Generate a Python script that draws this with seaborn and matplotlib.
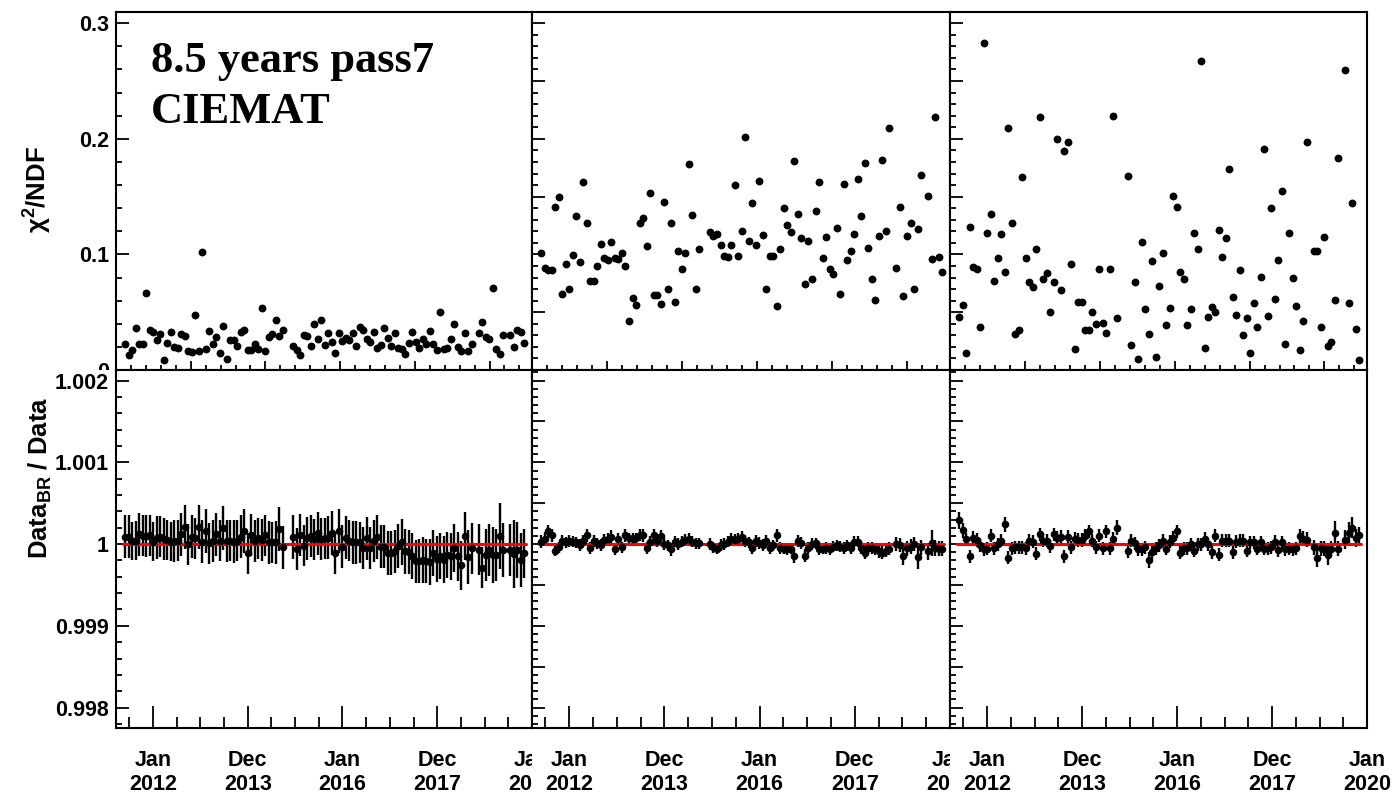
import numpy as np
import matplotlib
matplotlib.use("Agg")
import matplotlib.pyplot as plt
import seaborn as sns
from matplotlib.ticker import FixedLocator, MultipleLocator, FuncFormatter, NullFormatter
from matplotlib.transforms import Bbox, TransformedBbox

nan = np.nan

# ---------------- data ----------------
# 27-day time bins (decimal years)
BIN_DAYS = 27
FIRST_BIN_CENTRE = 2011.409
N_BINS = 115

xtick_years = [2012, 2014, 2016, 2018, 2020]
xtick_labels = ["Jan\n2012", "Dec\n2013", "Jan\n2016", "Dec\n2017", "Jan\n2020"]
annotation_lines = ["8.5 years pass7", "CIEMAT"]

# chi2/NDF, one list per column
chi2_a = [0.0222, 0.013, 0.017, 0.036, 0.0228, 0.0222, 0.0664, 0.0349, 0.0326, 0.0257,
          0.0315, 0.0084, 0.0234, 0.0332, 0.0199, 0.0193, 0.0309, 0.0297, 0.0165, 0.0159,
          0.0476, 0.0165, 0.1024, 0.0179, 0.034, 0.0222, 0.0286, 0.0147, 0.0381, 0.0092,
          0.0263, 0.0263, 0.0205, 0.0332, 0.0349, 0.017, 0.017, 0.0228, 0.0182, 0.054,
          0.0165, 0.0286, 0.0312, 0.0436, 0.0297, 0.0346, nan, nan, 0.0208, 0.0176,
          0.013, 0.0303, 0.0297, 0.0208, 0.0395, 0.0266, 0.0436, 0.0214, 0.0323, 0.024,
          0.015, 0.0317, 0.0248, 0.028, 0.0263, 0.0323, 0.0208, 0.0372, 0.0343, 0.0266,
          0.0242, 0.0332, 0.019, 0.0214, 0.0364, 0.0277, 0.0208, 0.0323, 0.0193, 0.0182,
          0.0139, 0.0231, 0.0326, 0.024, 0.0193, 0.0271, 0.0228, 0.0335, 0.0228, 0.017,
          0.0499, 0.0185, 0.0193, 0.0266, 0.0398, 0.0202, 0.0165, 0.0317, 0.0165, 0.0222,
          nan, 0.0323, 0.0416, 0.0283, 0.0271, 0.0707, 0.0182, 0.0139, 0.030, nan,
          0.0303, 0.0199, 0.0346, 0.0332, 0.0234]
chi2_b = [0.1016, 0.0886, 0.0863, 0.0863, 0.1414, 0.150, 0.0658, 0.0915, 0.0698, 0.0999,
          0.1333, 0.0935, 0.163, 0.1273, 0.0773, 0.0768, 0.0903, 0.1094, 0.0967, 0.095,
          0.1108, 0.0973, 0.0961, 0.1016, 0.0903, 0.0421, 0.0623, 0.056, 0.1276, 0.1319,
          0.1071, 0.1535, 0.0652, 0.0652, 0.0574, 0.1452, 0.0704, 0.1276, 0.0589, 0.1033,
          0.0874, 0.101, 0.178, 0.1342, 0.0698, 0.1045, nan, nan, 0.1192, 0.1163,
          0.118, 0.1079, 0.0987, 0.0975, 0.1079, 0.1599, 0.099, 0.1206, 0.2017, 0.1117,
          0.1443, 0.1079, 0.1636, 0.1166, 0.0698, 0.099, 0.0987, 0.0551, 0.1048, 0.1405,
          0.1255, 0.1195, 0.1807, 0.1351, 0.1143, 0.0742, 0.112, 0.0785, 0.1374, 0.1625,
          0.0973, 0.1152, 0.0874, 0.0828, 0.1229, 0.0658, 0.1605, 0.0952, 0.103, 0.1175,
          0.1651, 0.1336, 0.1795, 0.1059, 0.0785, 0.0603, 0.1163, 0.1821, 0.1206, 0.2095,
          nan, 0.088, 0.1414, 0.0644, 0.1163, 0.1273, 0.0701, 0.1221, 0.1683, nan,
          0.1509, 0.0958, 0.219, 0.0978, 0.0846]
chi2_c = [0.0456, 0.0566, 0.0144, 0.1238, 0.0895, 0.0874, 0.0369, 0.2828, 0.1186, 0.1354,
          0.0773, 0.097, 0.1177, 0.0848, 0.2092, 0.1273, 0.0312, 0.0346, 0.1674, 0.0967,
          0.0765, 0.0716, 0.1045, 0.2193, 0.0791, 0.084, 0.0499, 0.0759, 0.2, 0.0693,
          0.1899, 0.1974, 0.0921, 0.0185, 0.0586, 0.0592, 0.0346, 0.0343, 0.0502, 0.0395,
          0.0877, 0.0404, 0.0317, 0.0877, 0.2196, 0.0447, nan, nan, 0.1677, 0.0219,
          0.0765, 0.0098, 0.1108, 0.0528, 0.0309, 0.0947, 0.011, 0.0727, 0.101, 0.0392,
          0.0534, 0.1509, 0.1408, 0.0848, 0.0791, 0.0392, 0.0528, 0.1183, 0.105, 0.2672,
          0.019, 0.0462, 0.0545, 0.0502, 0.1209, 0.0978, 0.1146, 0.174, 0.0629, 0.0476,
          0.0866, 0.0303, 0.045, 0.015, 0.058, 0.0369, 0.0808, 0.1911, 0.047, 0.14,
          0.0615, 0.0955, 0.1547, 0.0222, 0.1183, 0.0797, 0.0557, 0.0176, 0.0427, 0.1974,
          nan, 0.103, 0.103, 0.0369, 0.1154, 0.0211, 0.024, 0.0609, 0.1838, nan,
          0.2592, 0.058, 0.1449, 0.0355, 0.0087]

# Data_BR / Data deviation from 1, in units of 1e-4
ratio_a = [0.9, 0.9, 0.4, 0.4, 1.2, 1.0, 1.0, 1.1, 0.3, 0.8,
           0.9, 0.6, 0.5, 0.3, 0.4, 0.4, 1.2, 2.1, 0.0, 0.9,
           0.7, 2.1, 0.3, 1.6, 0.1, 0.4, 1.2, 0.4, 2.0, 0.4,
           0.4, 0.3, 0.4, 0.9, 1.6, -1.1, 1.1, 0.4, 0.7, 0.5,
           1.1, 0.2, 0.2, 0.2, 1.8, -0.4, nan, nan, 0.9, -0.6,
           1.1, -0.2, 0.7, 1.0, 0.6, 1.3, 0.6, 0.7, 0.8, 1.4,
           -1.1, 1.6, -0.3, 0.8, 0.4, 0.2, 0.2, 0.2, -0.5, 0.7,
           -0.5, 0.4, 0.9, -0.3, -0.3, -1.1, -1.1, -0.9, -0.2, 0.3,
           -0.9, -1.0, -1.5, -2.1, -2.1, -1.9, -2.1, -2.2, -1.1, -1.8,
           -1.5, -1.9, -1.3, -1.5, -0.5, -1.5, -2.6, 1.0, -1.6, -0.5,
           nan, -0.7, -2.9, -1.3, -0.7, -1.3, -1.3, 1.0, -0.7, nan,
           -0.7, -1.2, -0.7, -2.0, -1.1]
err_a = [2.6, 2.6, 2.3, 2.4, 2.6, 2.5, 2.6, 2.5, 2.4, 2.6,
         2.5, 2.6, 2.5, 2.4, 2.6, 2.5, 2.6, 2.7, 2.5, 2.6,
         2.5, 2.7, 2.6, 2.7, 2.5, 2.6, 2.6, 2.5, 2.7, 2.6,
         2.5, 2.6, 2.5, 2.6, 2.7, 2.5, 2.6, 2.6, 2.5, 2.6,
         2.5, 2.6, 2.5, 2.6, 2.7, 2.6, nan, nan, 2.7, 2.6,
         2.6, 2.5, 2.6, 2.6, 2.5, 2.6, 2.6, 2.5, 2.6, 2.7,
         2.6, 2.7, 2.6, 2.6, 2.5, 2.6, 2.6, 2.5, 2.6, 2.6,
         2.6, 2.6, 2.7, 2.6, 2.6, 2.7, 2.7, 2.6, 2.7, 2.8,
         2.7, 2.7, 2.8, 2.6, 2.7, 2.8, 2.7, 2.8, 2.8, 2.8,
         2.8, 2.9, 2.8, 2.9, 2.9, 3.0, 3.0, 2.9, 3.3, 3.1,
         nan, 3.1, 2.5, 3.2, 3.2, 3.4, 3.2, 4.0, 3.3, nan,
         3.2, 4.2, 3.4, 3.3, 3.0]

ratio_b = [0.3, 0.65, 1.55, 1.1, -0.8, -0.4, 0.4, 0.2, 0.4, 0.3,
           0.2, -0.1, 0.4, 1.1, -0.5, 0.4, 0.1, -0.1, 0.5, 0.65,
           0.9, -0.65, 0.6, -0.4, 1.1, 0.7, 0.6, 0.7, 1.1, 1.1,
           -0.5, 0.3, 1.1, 0.4, 1.0, 0.0, -0.15, -0.65, 0.3, 0.0,
           0.3, 0.5, 0.65, 0.3, 0.1, 0.1, nan, nan, 0.0, -0.4,
           -0.55, -0.1, 0.0, 0.3, 0.6, 0.5, 0.65, 0.9, 0.4, 0.2,
           -0.5, 0.4, 0.15, -0.1, 0.4, -0.5, -0.15, 1.1, -0.5, -0.55,
           -0.65, -0.55, -1.5, 0.4, 0.15, -1.4, -0.5, 0.0, 0.1, -0.65,
           -0.55, -0.5, -0.65, -0.3, -0.15, -0.3, -0.5, -0.15, -0.5, 0.3,
           0.3, -0.5, -1.05, -0.5, -0.5, -0.65, -0.9, -1.05, -0.8, -0.55,
           nan, 0.0, -0.1, -1.5, -0.5, -0.3, 0.0, -1.55, -0.4, nan,
           -0.9, 0.1, -0.5, -0.55, -0.55]
err_b = [0.8, 0.8, 0.8, 0.8, 0.7, 0.7, 0.7, 0.7, 0.7, 0.7,
         0.7, 0.7, 0.7, 0.8, 0.7, 0.7, 0.7, 0.7, 0.7, 0.7,
         0.8, 0.7, 0.7, 0.7, 0.8, 0.7, 0.7, 0.7, 0.7, 0.8,
         0.7, 0.7, 0.8, 0.7, 0.7, 0.7, 0.7, 0.8, 0.7, 0.7,
         0.7, 0.7, 0.7, 0.7, 0.7, 0.7, nan, nan, 0.7, 0.7,
         0.7, 0.7, 0.7, 0.7, 0.7, 0.7, 0.7, 0.7, 0.7, 0.7,
         0.7, 0.7, 0.7, 0.7, 0.7, 0.7, 0.7, 0.8, 0.7, 0.7,
         0.7, 0.7, 0.8, 0.7, 0.7, 0.8, 0.7, 0.7, 0.7, 0.7,
         0.7, 0.7, 0.7, 0.7, 0.7, 0.7, 0.7, 0.7, 0.7, 0.7,
         0.7, 0.7, 0.8, 0.7, 0.7, 0.7, 0.8, 0.8, 0.8, 0.8,
         nan, 0.9, 0.9, 1.0, 0.9, 0.9, 0.9, 1.5, 0.9, nan,
         1.0, 1.6, 1.0, 0.9, 0.9]

ratio_c = [2.9, 1.7, 0.6, -1.5, 0.8, 0.5, -0.15, -0.65, -0.55, 1.0,
           -0.5, 0.0, 0.4, 2.4, -1.65, -0.5, -0.4, -0.4, -0.4, -0.5,
           0.4, 0.3, -1.2, 1.2, 0.4, 0.4, -0.25, 1.2, 0.8, 0.9,
           -1.5, 0.9, -0.4, 0.65, 0.5, 0.5, 1.05, 1.55, 0.4, -0.4,
           1.0, -0.5, 1.55, -0.5, 0.65, 2.0, nan, nan, -0.9, 0.4,
           0.1, -0.65, -0.65, -0.4, -1.95, -1.0, -0.5, -0.15, 0.4, -0.55,
           0.3, 0.8, 1.55, -1.05, -0.5, -0.5, 0.0, -0.8, 0.0, 0.0,
           0.65, 0.0, -1.0, 1.05, -1.3, 0.4, 0.4, 0.4, -1.0, 0.3,
           0.4, 0.4, -0.8, 0.25, 0.25, -0.55, 0.25, -0.55, -0.5, -0.4,
           0.3, -0.75, 0.25, -0.65, -0.55, -0.65, -0.5, 1.0, 0.65, 0.55,
           nan, -0.4, -1.7, -0.5, -0.55, -1.3, -0.55, 1.3, -0.55, nan,
           0.55, 1.4, 2.0, 0.75, 1.15]
err_c = [1.0, 0.9, 0.8, 0.8, 0.8, 0.8, 0.8, 0.8, 0.8, 0.8,
         0.8, 0.8, 0.8, 0.9, 0.8, 0.8, 0.8, 0.8, 0.8, 0.8,
         0.8, 0.8, 0.8, 0.8, 0.8, 0.8, 0.8, 0.8, 0.8, 0.8,
         0.8, 0.8, 0.8, 0.8, 0.8, 0.8, 0.8, 0.8, 0.8, 0.8,
         0.8, 0.8, 0.8, 0.8, 0.8, 0.9, nan, nan, 0.8, 0.8,
         0.8, 0.8, 0.8, 0.8, 1.0, 0.8, 0.8, 0.8, 0.8, 0.8,
         0.8, 0.8, 0.8, 0.8, 0.8, 0.8, 0.8, 0.8, 0.8, 0.8,
         0.8, 0.8, 0.8, 0.8, 0.8, 0.8, 0.8, 0.8, 0.8, 0.8,
         0.8, 0.8, 0.8, 0.8, 0.8, 0.8, 0.8, 0.8, 0.8, 0.8,
         0.8, 0.8, 0.8, 0.8, 0.8, 0.8, 0.8, 0.9, 0.9, 0.9,
         nan, 0.9, 1.1, 0.9, 0.9, 1.3, 0.9, 1.5, 0.9, nan,
         1.2, 1.3, 1.3, 1.1, 1.0]

fit_level = 1.0

# ---------------- style ----------------
sns.set_theme(style="white")
plt.rcParams["font.family"] = ["Liberation Sans", "DejaVu Sans"]
plt.rcParams["font.weight"] = "bold"
plt.rcParams["mathtext.fontset"] = "custom"
plt.rcParams["mathtext.rm"] = "Liberation Sans:bold"
plt.rcParams["mathtext.bf"] = "Liberation Sans:bold"
plt.rcParams["mathtext.it"] = "Liberation Sans:italic"
plt.rcParams["axes.linewidth"] = 1.5
plt.rcParams["axes.edgecolor"] = "black"
for key in ("text.color", "axes.labelcolor", "xtick.color", "ytick.color"):
    plt.rcParams[key] = "black"

W, H = 1395, 802
fig = plt.figure(figsize=(W / 100, H / 100), dpi=100, facecolor="white")

col_px = [(116, 532), (532, 950), (950, 1367)]
row_px = [(11.7, 370), (370, 728)]


def make_ax(c, r):
    x0, x1 = col_px[c]
    y0, y1 = row_px[r]
    return fig.add_axes([x0 / W, 1 - y1 / H, (x1 - x0) / W, (y1 - y0) / H])


t = FIRST_BIN_CENTRE + np.arange(N_BINS) * BIN_DAYS / 365.25
half_bin = 0.5 * BIN_DAYS / 365.25
XLIM = (2011.219, 2020.0)
top_major = XLIM[0] + 1.577 * np.arange(6)
top_minor = XLIM[0] + 0.3154 * np.arange(28)

chi2_sets = [chi2_a, chi2_b, chi2_c]
ratio_sets = [(ratio_a, err_a), (ratio_b, err_b), (ratio_c, err_c)]
fmt = FuncFormatter(lambda v, p: f"{v:g}")

top_axes, bot_axes = [], []
for c in range(3):
    # ---------- top row: chi2/NDF ----------
    ax = make_ax(c, 0)
    top_axes.append(ax)
    sns.scatterplot(x=t, y=np.array(chi2_sets[c]), ax=ax, color="black",
                    s=32, linewidth=0, legend=False)
    ax.set_xlim(*XLIM)
    ax.set_ylim(0, 0.31)
    ax.xaxis.set_major_locator(FixedLocator(top_major))
    ax.xaxis.set_minor_locator(FixedLocator(top_minor))
    ax.xaxis.set_major_formatter(NullFormatter())
    ax.tick_params(axis="x", which="major", direction="in", length=6.5, width=1.3,
                   top=False, bottom=True)
    ax.tick_params(axis="x", which="minor", direction="in", length=3.6, width=1.3,
                   top=False, bottom=True)
    if c == 0:
        ax.yaxis.set_major_locator(FixedLocator([0, 0.1, 0.2, 0.3]))
        ax.yaxis.set_minor_locator(MultipleLocator(0.02))
        ax.yaxis.set_major_formatter(fmt)
    else:
        ax.yaxis.set_major_locator(MultipleLocator(0.05))
        ax.yaxis.set_minor_locator(MultipleLocator(0.01))
        ax.yaxis.set_major_formatter(NullFormatter())
    ax.tick_params(axis="y", which="major", direction="in", length=9, width=1.3,
                   left=True, right=False, labelsize=15.5, pad=5)
    ax.tick_params(axis="y", which="minor", direction="in", length=4.5, width=1.3,
                   left=True, right=False)
    ax.set_xlabel("")
    ax.set_ylabel("")

    # ---------- bottom row: Data_BR / Data ----------
    ax2 = make_ax(c, 1)
    bot_axes.append(ax2)
    vals, errs = ratio_sets[c]
    y = fit_level + np.array(vals) * 1e-4
    e = np.array(errs) * 1e-4
    ax2.errorbar(t, y, yerr=e, fmt="none", ecolor="black", elinewidth=1.7,
                 capsize=0, zorder=2)
    ax2.plot([t[0] - half_bin, t[-1] + half_bin], [fit_level, fit_level],
             color="#ff0000", lw=2.2, zorder=3)
    sns.scatterplot(x=t, y=y, ax=ax2, color="black", s=30, linewidth=0,
                    legend=False, zorder=4)
    ax2.set_xlim(*XLIM)
    ax2.set_ylim(0.99775, 1.00213)
    ax2.set_xticks(xtick_years)
    ax2.set_xticklabels(xtick_labels)
    ax2.xaxis.set_minor_locator(MultipleLocator(0.5))
    ax2.tick_params(axis="x", which="major", direction="in", length=16, width=1.3,
                    top=False, bottom=True, labelsize=15.5, pad=16)
    ax2.tick_params(axis="x", which="minor", direction="in", length=8, width=1.3,
                    top=False, bottom=True)
    if c == 0:
        ax2.yaxis.set_major_locator(MultipleLocator(0.001))
        ax2.yaxis.set_minor_locator(MultipleLocator(0.0002))
        ax2.yaxis.set_major_formatter(fmt)
    else:
        ax2.yaxis.set_major_locator(MultipleLocator(0.0005))
        ax2.yaxis.set_minor_locator(MultipleLocator(0.0001))
        ax2.yaxis.set_major_formatter(NullFormatter())
    ax2.tick_params(axis="y", which="major", direction="in", length=9, width=1.3,
                    left=True, right=False, labelsize=15.5, pad=5)
    ax2.tick_params(axis="y", which="minor", direction="in", length=4.5, width=1.3,
                    left=True, right=False)
    ax2.set_xlabel("")
    ax2.set_ylabel("")
    for a in (ax, ax2):
        for s in a.spines.values():
            s.set_linewidth(1.5)
            s.set_color("black")
            s.set_visible(True)

# axis titles
top_axes[0].set_ylabel(r"χ$^{\mathbf{2}}$/NDF", fontsize=18.5, fontweight="bold")
top_axes[0].yaxis.set_label_coords(-0.15, 0.505)
bot_axes[0].set_ylabel(r"Data$_{\mathbf{BR}}$ / Data", fontsize=18.5, fontweight="bold")
bot_axes[0].yaxis.set_label_coords(-0.15, 0.70)

# annotation (two lines, baselines placed separately)
for line, yb in zip(annotation_lines, (0.8325, 0.688)):
    top_axes[0].text(0.084, yb, line, transform=top_axes[0].transAxes,
                     family=["Liberation Serif", "DejaVu Serif"], fontweight="bold",
                     fontsize=32, va="baseline", ha="left")

# ROOT-like overdrawing: clip labels that spill across pad borders
fig.canvas.draw()
for c in (0, 1):
    ax2 = bot_axes[c]
    for tk in ax2.xaxis.get_major_ticks():
        if abs(tk.get_loc() - XLIM[1]) < 1e-6:
            tk.label1.set_clip_box(TransformedBbox(Bbox([[-0.5, -1.0], [1.0, 0.0]]), ax2.transAxes))
            tk.label1.set_clip_on(True)
ax = top_axes[0]
for tk in ax.yaxis.get_major_ticks():
    if abs(tk.get_loc()) < 1e-9:
        tk.label1.set_clip_box(TransformedBbox(Bbox([[-0.5, 0.0], [1.0, 1.05]]), ax.transAxes))
        tk.label1.set_clip_on(True)

fig.savefig("out.png", dpi=100, facecolor="white")
